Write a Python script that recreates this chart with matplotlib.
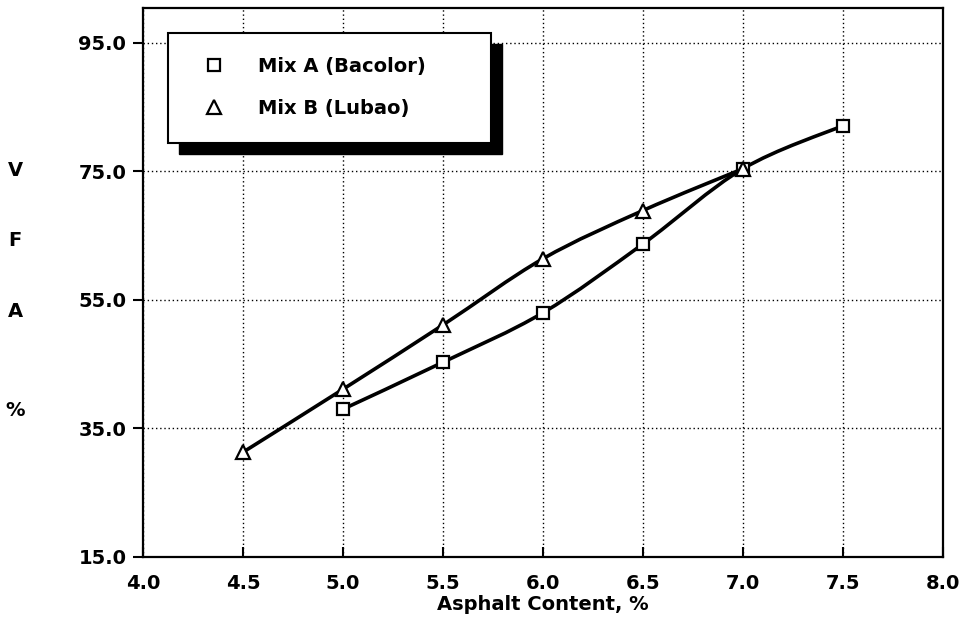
import numpy as np
import matplotlib
matplotlib.use('Agg')
import matplotlib.pyplot as plt
from matplotlib.path import Path
from matplotlib.patches import PathPatch, Rectangle
from matplotlib.lines import Line2D

# data
asphalt_a = [5.0, 5.5, 6.0, 6.5, 7.0, 7.5]
vfa_a = [38.0, 45.3, 53.0, 63.7, 75.4, 82.1]
asphalt_b = [4.5, 5.0, 5.5, 6.0, 6.5, 7.0]
vfa_b = [31.3, 41.1, 51.1, 61.4, 68.9, 75.4]

x_ticks = [4.0, 4.5, 5.0, 5.5, 6.0, 6.5, 7.0, 7.5, 8.0]
y_ticks = [15.0, 35.0, 55.0, 75.0, 95.0]
names = ['Mix A (Bacolor)', 'Mix B (Lubao)']

plt.rcParams['font.family'] = ['DejaVu Sans']
plt.rcParams['font.weight'] = 'bold'


def smooth_path(xs, ys):
	# catmull-rom through the points, as bezier segments
	pts = np.column_stack([xs, ys])
	verts = [pts[0]]
	codes = [Path.MOVETO]
	n = len(pts)
	for i in range(n - 1):
		p0 = pts[max(i - 1, 0)]
		p1 = pts[i]
		p2 = pts[i + 1]
		p3 = pts[min(i + 2, n - 1)]
		c1 = p1 + (p2 - p0) / 6.0
		c2 = p2 - (p3 - p1) / 6.0
		verts += [c1, c2, p2]
		codes += [Path.CURVE4] * 3
	return Path(verts, codes)


fig = plt.figure(figsize=(9.68, 6.31), dpi=100)
ax = fig.add_axes([143 / 968, 74 / 631, 800 / 968, 549 / 631])

for xs, ys in [(asphalt_a, vfa_a), (asphalt_b, vfa_b)]:
	ax.add_patch(PathPatch(smooth_path(xs, ys), fill=False, edgecolor='black',
		linewidth=2.6, capstyle='round', zorder=3))

ax.plot(asphalt_a, vfa_a, linestyle='none', marker='s', markersize=8.5,
	markerfacecolor='white', markeredgecolor='black', markeredgewidth=1.6, zorder=4)
ax.plot(asphalt_b, vfa_b, linestyle='none', marker='^', markersize=10,
	markerfacecolor='white', markeredgecolor='black', markeredgewidth=1.6, zorder=4)

ax.set_xlim(4.0, 8.0)
ax.set_ylim(15.0, 100.4)
ax.set_xticks(x_ticks)
ax.set_xticklabels(['%.1f' % v for v in x_ticks])
ax.set_yticks(y_ticks)
ax.set_yticklabels(['%.1f' % v for v in y_ticks])
ax.tick_params(axis='x', direction='in', length=7, width=1.5, labelsize=14, pad=12)
ax.tick_params(axis='y', direction='out', length=7, width=1.5, labelsize=14, pad=5)
for side in ['left', 'right', 'top', 'bottom']:
	ax.spines[side].set_linewidth(1.6)

ax.grid(True, linestyle=(0, (1, 2)), color='black', linewidth=1.0)
ax.set_axisbelow(True)

ax.set_xlabel('Asphalt Content, %', fontsize=14, fontweight='bold', labelpad=2)

# stacked y label
for ch, yp in zip(['V', 'F', 'A', '%'], [170, 240, 312, 410]):
	fig.text(15 / 968, 1 - yp / 631, ch, fontsize=14, fontweight='bold',
		ha='center', va='center')

# legend box with black drop shadow
bx0, bx1 = (168 - 143) / 800, (491 - 143) / 800
by0, by1 = 1 - (143 - 8) / 549, 1 - (33 - 8) / 549
dx, dy = 11 / 800, 11 / 549
ax.add_patch(Rectangle((bx0 + dx, by0 - dy), bx1 - bx0, by1 - by0, transform=ax.transAxes,
	facecolor='black', edgecolor='black', zorder=5))
ax.add_patch(Rectangle((bx0, by0), bx1 - bx0, by1 - by0, transform=ax.transAxes,
	facecolor='white', edgecolor='black', linewidth=1.5, zorder=6))

handles = [
	Line2D([], [], linestyle='none', marker='s', markersize=8.5, markerfacecolor='white',
		markeredgecolor='black', markeredgewidth=1.6),
	Line2D([], [], linestyle='none', marker='^', markersize=10, markerfacecolor='white',
		markeredgecolor='black', markeredgewidth=1.6),
]
leg = ax.legend(handles, names, loc='upper left', bbox_to_anchor=(bx0 + 0.024, by1 - 0.011),
	frameon=False, prop={'size': 14, 'weight': 'bold'}, handlelength=1.0,
	handletextpad=1.75, labelspacing=1.2)
leg.set_zorder(7)

fig.savefig('out.png', dpi=100)
